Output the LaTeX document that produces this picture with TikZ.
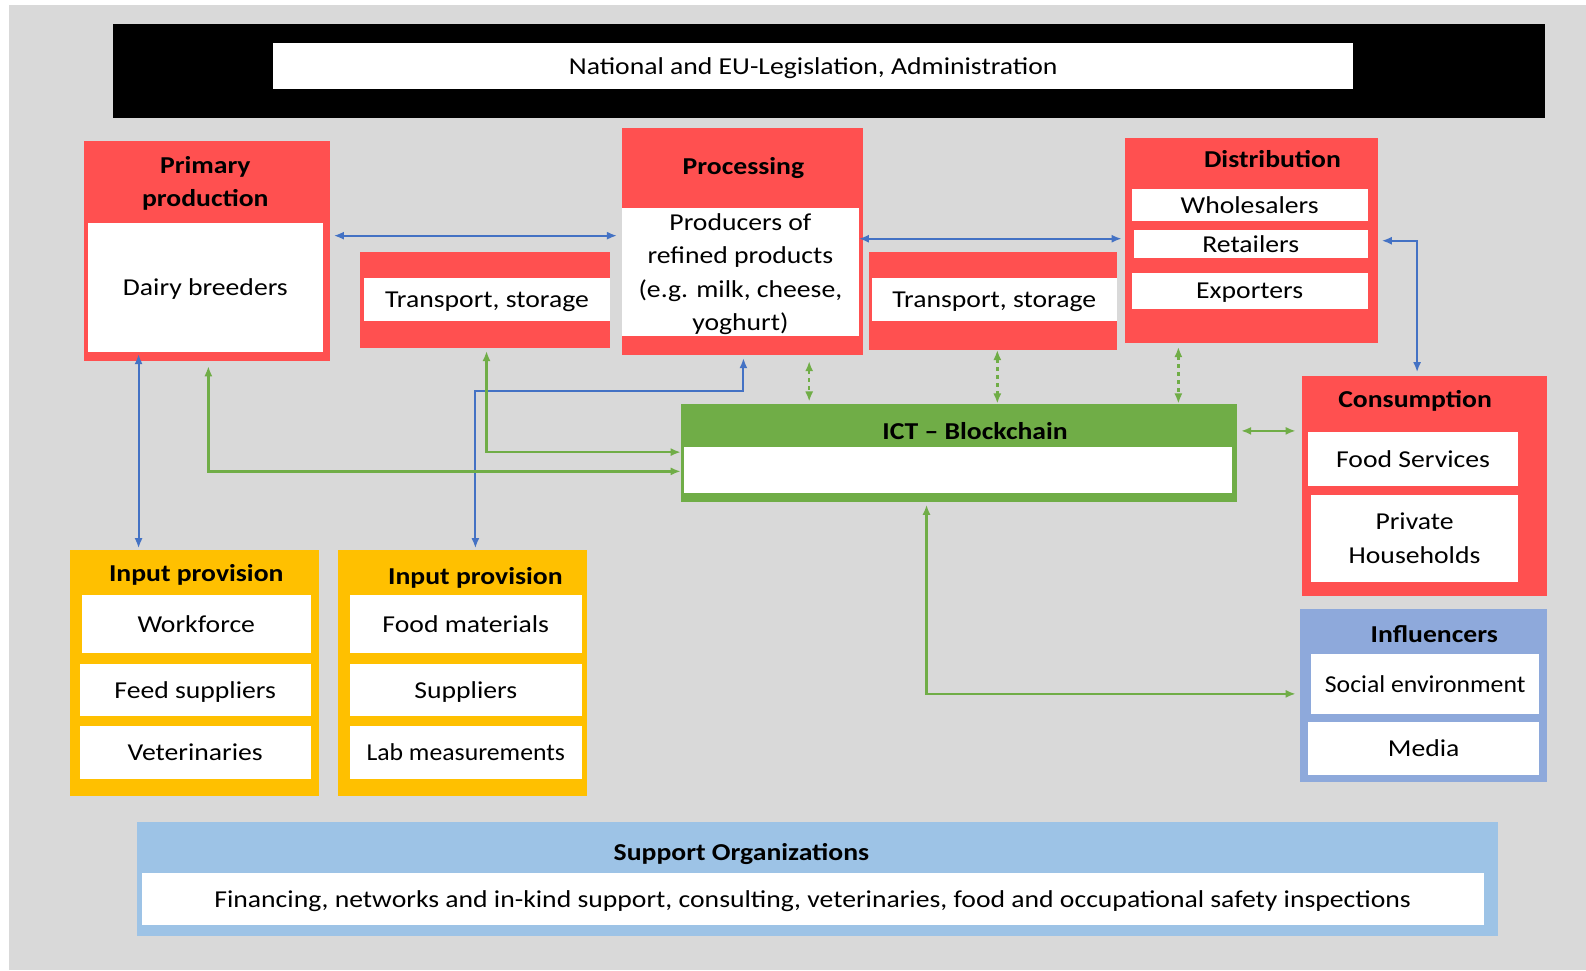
\documentclass[tikz,border=0pt]{standalone}
\usepackage{fontspec}
\setmainfont{Carlito}[FakeStretch = 1.14]
\newfontfamily\narrowfont{Carlito}[FakeStretch = 1.06]
\usetikzlibrary{positioning}
\usetikzlibrary{arrows.meta}

\definecolor{sheetgrey}{HTML}{D9D9D9}
\definecolor{chainred}{HTML}{FF5050}
\definecolor{ictgreen}{HTML}{70AD47}
\definecolor{inputyellow}{HTML}{FFC000}
\definecolor{inflblue}{HTML}{8EA9DB}
\definecolor{supportblue}{HTML}{9DC3E6}
\definecolor{flowblue}{HTML}{4472C4}

\tikzset{
	box/.style = {anchor = north west, inner sep = 0pt, outer sep = 0pt},
	itembox/.style = {box, fill = white, align = center, text depth = 0pt, font = \fontsize{24}{33}\selectfont},
	headtext/.style = {inner sep = 0pt, align = center, font = \bfseries\fontsize{24}{33}\selectfont},
	bluearrow/.style = {flowblue, line width = 2pt, {Latex[length = 10pt, width = 8pt]}-{Latex[length = 10pt, width = 8pt]}},
	greenarrow/.style = {ictgreen, line width = 2.5pt, {Latex[length = 10pt, width = 8pt]}-{Latex[length = 10pt, width = 8pt]}},
	greendash/.style = {greenarrow, dash pattern = on 4pt off 4pt}
}

\begin{document}
\begin{tikzpicture}[x = 1pt, y = -1pt]
	\useasboundingbox (0, 0) rectangle (1568, 959);
	\fill [sheetgrey] (9, 5) rectangle (1568, 959);

	% legislation
	\node [box, fill = black, minimum width = 1415pt, minimum height = 93pt] (legal) at (112, 24) {};
	\node [itembox, minimum width = 1068pt, minimum height = 45pt] (legaltext) at (270, 43) {National and EU-Legislation, Administration};

	% supply chain
	\node [box, fill = chainred, minimum width = 243pt, minimum height = 218pt] (prim) at (83, 139) {};
	\node [headtext] (primhead) at (203, 181) {Primary\\production};
	\node [itembox, minimum width = 232pt, minimum height = 128pt] (dairy) at (87, 220) {Dairy breeders};

	\node [box, fill = chainred, minimum width = 247pt, minimum height = 95pt] (trans1) at (356, 249) {};
	\node [itembox, minimum width = 243pt, minimum height = 42pt] (trans1text) at (360, 275) {Transport, storage};

	\node [box, fill = chainred, minimum width = 238pt, minimum height = 224pt] (proc) at (615, 127) {};
	\node [headtext] (prochead) at (735, 166) {Processing};
	\node [itembox, minimum width = 234pt, minimum height = 126pt] (proctext) at (615, 206) {Producers of\\refined products\\(e.g. milk, cheese,\\yoghurt)};

	\node [box, fill = chainred, minimum width = 245pt, minimum height = 97pt] (trans2) at (859, 249) {};
	\node [itembox, minimum width = 242pt, minimum height = 42pt] (trans2text) at (862, 275) {Transport, storage};

	\node [box, fill = chainred, minimum width = 250pt, minimum height = 203pt] (distr) at (1112, 136) {};
	\node [headtext] (distrhead) at (1258, 157) {Distribution};
	\node [itembox, minimum width = 233pt, minimum height = 31pt] (whole) at (1119, 187) {Wholesalers};
	\node [itembox, minimum width = 231pt, minimum height = 28pt] (retail) at (1121, 227) {Retailers};
	\node [itembox, minimum width = 233pt, minimum height = 35pt] (export) at (1119, 270) {Exporters};

	\node [box, fill = chainred, minimum width = 242pt, minimum height = 217pt] (cons) at (1287, 372) {};
	\node [headtext] (conshead) at (1399, 396) {Consumption};
	\node [itembox, minimum width = 208pt, minimum height = 53pt] (foodserv) at (1293, 427) {Food Services};
	\node [itembox, minimum width = 205pt, minimum height = 86pt] (house) at (1296, 489) {Private\\Households};

	\node [box, fill = inflblue, minimum width = 244pt, minimum height = 171pt] (infl) at (1285, 602) {};
	\node [headtext] (inflhead) at (1418, 627) {Influencers};
	\node [itembox, minimum width = 226pt, minimum height = 59pt] (social) at (1296, 647) {\narrowfont Social environment};
	\node [itembox, minimum width = 229pt, minimum height = 52pt] (media) at (1293, 714) {Media};

	% ICT layer
	\node [box, fill = ictgreen, minimum width = 550pt, minimum height = 97pt] (ict) at (673, 399) {};
	\node [headtext] (icthead) at (964, 426) {ICT -- Blockchain};
	\node [box, fill = white, minimum width = 542pt, minimum height = 45pt] (icttext) at (676, 442) {};

	% inputs
	\node [box, fill = inputyellow, minimum width = 246pt, minimum height = 243pt] (input1) at (69, 544) {};
	\node [headtext] (input1head) at (194, 568) {Input provision};
	\node [itembox, minimum width = 226pt, minimum height = 58pt] (work) at (81, 588) {Workforce};
	\node [itembox, minimum width = 228pt, minimum height = 52pt] (feed) at (79, 656) {Feed suppliers};
	\node [itembox, minimum width = 228pt, minimum height = 52pt] (vet) at (79, 718) {Veterinaries};

	\node [box, fill = inputyellow, minimum width = 246pt, minimum height = 243pt] (input2) at (334, 544) {};
	\node [headtext] (input2head) at (470, 571) {Input provision};
	\node [itembox, minimum width = 229pt, minimum height = 58pt] (foodmat) at (346, 588) {Food materials};
	\node [itembox, minimum width = 229pt, minimum height = 52pt] (suppl) at (346, 656) {Suppliers};
	\node [itembox, minimum width = 229pt, minimum height = 52pt] (lab) at (346, 718) {\narrowfont Lab measurements};

	% support
	\node [box, fill = supportblue, minimum width = 1346pt, minimum height = 112pt] (support) at (135, 813) {};
	\node [headtext] (supporthead) at (733, 844) {Support Organizations};
	\node [itembox, minimum width = 1327pt, minimum height = 51pt] (supporttext) at (140, 863) {Financing, networks and in-kind support, consulting, veterinaries, food and occupational safety inspections};

	% flows of goods
	\draw [bluearrow, shorten <= 4pt, shorten >= 5pt] (prim.east |- 0, 233) -- (proc.west |- 0, 233);
	\draw [bluearrow, shorten >= 3pt] (proctext.east |- 0, 236) -- (distr.west |- 0, 236);
	\draw [bluearrow, shorten <= 4pt, shorten >= 4pt] (distr.east |- 0, 238) -| (cons.north -| 1401, 0);
	\draw [bluearrow, shorten <= 2pt, shorten >= 2pt] (dairy.south -| 137, 0) -- (input1.north -| 137, 0);
	\draw [bluearrow, shorten <= 2pt, shorten >= 3pt] (input2.north -| 470, 0) |- (735, 387) -- (proc.south -| 735, 0);

	% flows of information
	\draw [greenarrow, shorten <= 5pt] (prim.south -| 206, 0) |- (ict.west |- 0, 466);
	\draw [greenarrow, shorten <= 3pt] (trans1.south -| 481, 0) |- (ict.west |- 0, 447);
	\draw [greendash, shorten <= 6pt, shorten >= 2pt] (proc.south -| 800, 0) -- (ict.north -| 800, 0);
	\draw [greendash] (trans2.south -| 986, 0) -- (ict.north -| 986, 0);
	\draw [greendash, shorten <= 4pt] (distr.south -| 1165, 0) -- (ict.north -| 1165, 0);
	\draw [greenarrow, shorten <= 4pt, shorten >= 6pt] (ict.east |- 0, 426) -- (cons.west |- 0, 426);
	\draw [greenarrow, shorten <= 3pt, shorten >= 4pt] (ict.south -| 916, 0) |- (infl.west |- 0, 686);
\end{tikzpicture}
\end{document}
